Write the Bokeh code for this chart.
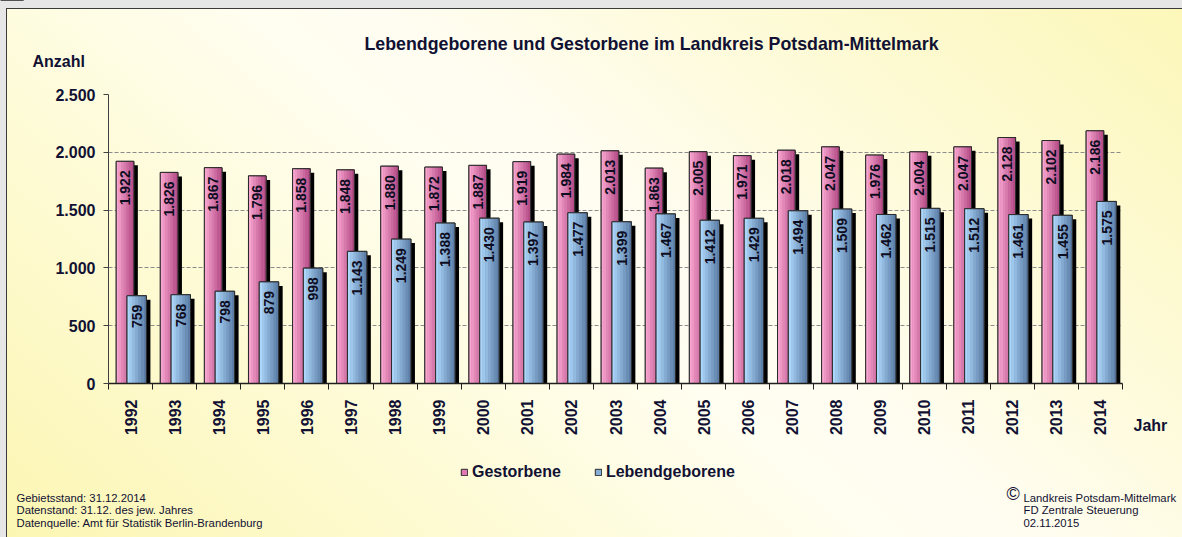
import numpy as np
from bokeh.plotting import figure
from bokeh.models import Range1d, FixedTicker, Label, Legend, LegendItem, ColumnDataSource
from bokeh.embed import file_html
from bokeh.resources import INLINE
from bokeh.core.properties import value

# ---------------- data ----------------
years = ["1992", "1993", "1994", "1995", "1996", "1997", "1998", "1999", "2000", "2001", "2002",
         "2003", "2004", "2005", "2006", "2007", "2008", "2009", "2010", "2011", "2012", "2013", "2014"]
gestorbene = [1922, 1826, 1867, 1796, 1858, 1848, 1880, 1872, 1887, 1919, 1984,
              2013, 1863, 2005, 1971, 2018, 2047, 1976, 2004, 2047, 2128, 2102, 2186]
lebendgeborene = [759, 768, 798, 879, 998, 1143, 1249, 1388, 1430, 1397, 1477,
                  1399, 1467, 1412, 1429, 1494, 1509, 1462, 1515, 1512, 1461, 1455, 1575]
series_names = ["Gestorbene", "Lebendgeborene"]
y_ticks = [0, 500, 1000, 1500, 2000, 2500]
y_tick_labels = ["0", "500", "1.000", "1.500", "2.000", "2.500"]
title_text = "Lebendgeborene und Gestorbene im Landkreis Potsdam-Mittelmark"
y_label = "Anzahl"
x_label = "Jahr"
footer_left = ["Gebietsstand: 31.12.2014", "Datenstand: 31.12. des jew. Jahres",
               "Datenquelle: Amt für Statistik Berlin-Brandenburg"]
footer_right = ["Landkreis Potsdam-Mittelmark", "FD Zentrale Steuerung", "02.11.2015"]


def de_num(v):
    return f"{v:,}".replace(",", ".")


# ---------------- layout ----------------
W, H = 1182, 537
FL, FR, FT, FB = 108, 1122, 94, 383  # frame edges in canvas pixels
YMAX = 2500
N = len(years)
XS = N / (FR - FL)
YS = YMAX / (FB - FT)

FONT = "Liberation Sans"
DARK = "#111133"
PINK = ("#f7a6d0", "#b44c86", "#e07ab2")
BLUE = ("#acd6fa", "#5d7ea6", "#86aed6")

p = figure(width=W, height=H, output_backend="svg", toolbar_location=None, title=None,
           x_range=Range1d(0, N), y_range=Range1d(0, YMAX),
           min_border_left=FL, min_border_right=W - FR,
           min_border_top=FT, min_border_bottom=H - FB)
p.background_fill_alpha = 0
p.border_fill_alpha = 0
p.outline_line_color = None
p.styles = {
    "background": "linear-gradient(40deg, #fcf6b2 0%, #fffef0 48%, #fffdf2 55%, #fcf7b8 100%)",
    "box-shadow": "inset 7px 9px 0 -1px #e6e6e6, inset 8px 10px 0 -1px #3a3a3a",
}

# axes
yt = FixedTicker(ticks=y_ticks)
p.yaxis.ticker = yt
p.ygrid.ticker = yt
p.yaxis.major_label_overrides = {t: l for t, l in zip(y_ticks, y_tick_labels)}
p.yaxis.minor_tick_line_color = None
p.yaxis.major_tick_in = 0
p.yaxis.major_tick_out = 5
p.yaxis.major_label_standoff = 8
p.yaxis.axis_line_color = "#404040"
p.yaxis.major_tick_line_color = "#404040"

centers = [i + 0.5 for i in range(N)]
xt = FixedTicker(ticks=centers, minor_ticks=list(range(N + 1)))
p.xaxis.ticker = xt
p.xaxis.major_label_overrides = {c: y for c, y in zip(centers, years)}
p.xaxis.major_label_orientation = np.pi / 2
p.xaxis.major_tick_in = 0
p.xaxis.major_tick_out = 0
p.xaxis.minor_tick_in = 0
p.xaxis.minor_tick_out = 6
p.xaxis.minor_tick_line_color = "#202020"
p.xaxis.major_label_standoff = 10
p.xaxis.axis_line_color = "#202020"
p.xaxis.axis_line_width = 1.5
for ax in (p.xaxis[0], p.yaxis[0]):
    ax.major_label_text_font = FONT
    ax.major_label_text_font_size = "16px"
    ax.major_label_text_font_style = "bold"
    ax.major_label_text_color = DARK

p.xgrid.visible = False
p.ygrid.grid_line_color = "#8c8c8c"
p.ygrid.grid_line_dash = "4 2"
p.ygrid.grid_line_width = 1


# ---------------- bars ----------------
def hex2rgb(h):
    h = h.lstrip("#")
    return [int(h[i:i + 2], 16) for i in (0, 2, 4)]


def mix(c1, c2, t):
    a, b = hex2rgb(c1), hex2rgb(c2)
    return "#%02x%02x%02x" % tuple(int(round(a[i] + (b[i] - a[i]) * t)) for i in range(3))


SH_X = 4 * XS
SH_Y = 4 * YS
NSTRIP = 7


def draw_series(vals, offset, width, colors):
    c_light, c_dark, c_mid = colors
    xs = [i + 0.5 + offset for i in range(N)]
    p.vbar(x=[x + SH_X for x in xs], top=[v - SH_Y for v in vals], bottom=0, width=width,
           fill_color="black", line_color=None)
    p.vbar(x=xs, top=vals, bottom=0, width=width, fill_color=c_mid, line_color="#2a2a2a")
    sw = width / NSTRIP
    for k in range(NSTRIP):
        p.vbar(x=[x - width / 2 + (k + 0.5) * sw for x in xs], top=vals, bottom=0, width=sw * 1.02,
               fill_color=mix(c_light, c_dark, k / (NSTRIP - 1)), line_color=None)
    p.vbar(x=xs, top=vals, bottom=0, width=width, fill_color=None, line_color="#2a2a2a", line_width=1)
    src = ColumnDataSource(dict(x=xs, y=vals, t=[de_num(v) for v in vals]))
    p.text(x="x", y="y", text="t", source=src, angle=np.pi / 2, y_offset=9,
           text_align="right", text_baseline="middle", text_font=value(FONT),
           text_font_size=value("14px"), text_font_style="bold", text_color="#0d0d22")


draw_series(gestorbene, -0.125, 0.40, PINK)
draw_series(lebendgeborene, 0.14, 0.44, BLUE)

# ---------------- text overlay (frame = whole canvas, data units = pixels) ----------------
q = figure(width=W, height=H, output_backend="svg", toolbar_location=None, title=None,
           x_range=Range1d(0, W), y_range=Range1d(H, 0),
           x_axis_location=None, y_axis_location=None,
           min_border_left=0, min_border_right=0, min_border_top=0, min_border_bottom=0)
q.background_fill_alpha = 0
q.border_fill_alpha = 0
q.outline_line_color = None
q.xgrid.visible = False
q.ygrid.visible = False
q.styles = {"position": "absolute", "top": "0px", "left": "0px", "pointer-events": "none"}

# legend renderers: the series on a range where they are not visible, used only for the legend glyph
q.extra_y_ranges = {"legend_only": Range1d(-2, -1)}
lg_pink = q.vbar(x=centers, top=gestorbene, bottom=0, width=0.4, fill_color=PINK[2],
                 line_color="#2a2a2a", y_range_name="legend_only")
lg_blue = q.vbar(x=centers, top=lebendgeborene, bottom=0, width=0.4, fill_color=BLUE[2],
                 line_color="#2a2a2a", y_range_name="legend_only")
legend = Legend(items=[LegendItem(label=series_names[0], renderers=[lg_pink]),
                       LegendItem(label=series_names[1], renderers=[lg_blue])],
                orientation="horizontal", location=(460, H - 462 - 20),
                padding=0, margin=0, spacing=33, glyph_width=8, glyph_height=8,
                label_standoff=4, background_fill_alpha=0, border_line_color=None,
                label_text_font=FONT, label_text_font_size="16px", label_height=20,
                label_text_font_style="bold", label_text_color=DARK)
q.add_layout(legend)


def add_label(text, px, py, size, bold=False, align="left"):
    q.add_layout(Label(x=px, y=py, text=text, text_align=align, text_baseline="middle",
                       text_font=FONT, text_font_size=size,
                       text_font_style="bold" if bold else "normal", text_color=DARK))


add_label(title_text, 651, 43, "17.8px", bold=True, align="center")
add_label(y_label, 32, 61, "16px", bold=True)
add_label(x_label, 1133, 425, "16px", bold=True)
for k, t in enumerate(footer_left):
    add_label(t, 16, 497 + 12.5 * k, "11.3px")
add_label("©", 1006, 493, "18px")
for k, t in enumerate(footer_right):
    add_label(t, 1023, 497 + 12.5 * k, "11.3px")

open("out.html", "w").write(file_html([p, q], INLINE))
